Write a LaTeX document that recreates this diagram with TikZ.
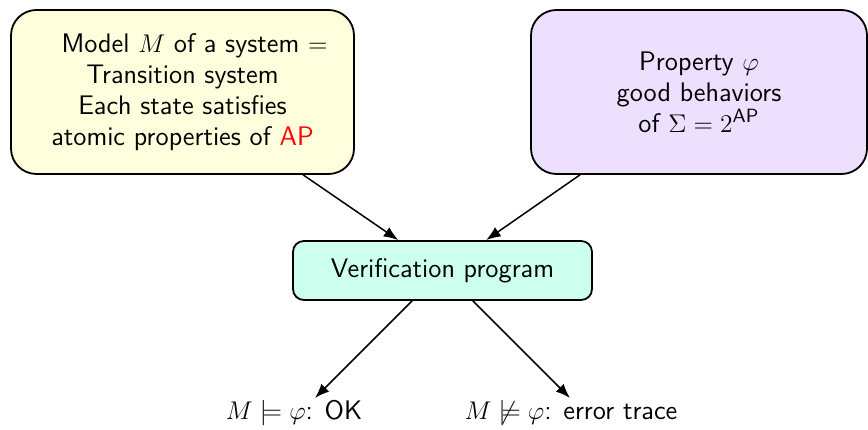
\documentclass[tikz,border=0pt]{standalone}
\usepackage{tikz}
\usetikzlibrary{calc, positioning, arrows.meta}
\definecolor{modelC}{HTML}{FFFFDD}
\definecolor{propC}{HTML}{EDE0FF}
\definecolor{verifC}{HTML}{CCFFEE}
\definecolor{apC}{HTML}{FF0000}
\def\lwBox{0.85pt}
\def\lwArrow{0.7pt}
\def\bigR{4.2mm}
\def\smallR{1.8mm}

\begin{document}
\begin{tikzpicture}[x=0.165mm, y=0.165mm, line cap=round, line join=round,
    font=\sffamily\fontsize{12.6pt}{14.6pt}\selectfont,
    box/.style={draw=black, line width=\lwBox, align=center, inner sep=0pt},
    flow/.style={-{Latex[length=6.8pt, width=5.2pt]}, line width=\lwArrow}]

  \useasboundingbox (0, 0) rectangle (868, 430);

  % Inputs
  \node[box, fill=modelC, rounded corners=\bigR,
        minimum width=343*0.165mm, minimum height=164*0.165mm]
    (model) at (182.5, 338)
    {\hspace*{0.9em}Model $M$ of a system $=$\\ Transition system\\ Each state satisfies\\
     atomic properties of \textcolor{apC}{AP}};

  \node[box, fill=propC, rounded corners=\bigR,
        minimum width=336*0.165mm, minimum height=164*0.165mm]
    (prop) at (699, 338)
    {Property $\varphi$\\ good behaviors\\ of $\Sigma = 2^{\mathsf{AP}}$};

  % Checker
  \node[box, fill=verifC, rounded corners=\smallR,
        minimum width=299*0.165mm, minimum height=59*0.165mm]
    (verif) at (442.5, 159.5) {Verification program};

  % Outcomes
  \coordinate (okTip)  at (315, 32);
  \coordinate (errTip) at (570, 32);
  \node (ok)  at (294, 17) {$M \models \varphi$: OK};
  \node (err) at (571, 17) {$M \not\models \varphi$: error trace};

  \draw[flow] (model) -- (verif);
  \draw[flow] (prop) -- (verif);
  \draw[flow] (verif) -- (okTip);
  \draw[flow] (verif) -- (errTip);
\end{tikzpicture}
\end{document}
